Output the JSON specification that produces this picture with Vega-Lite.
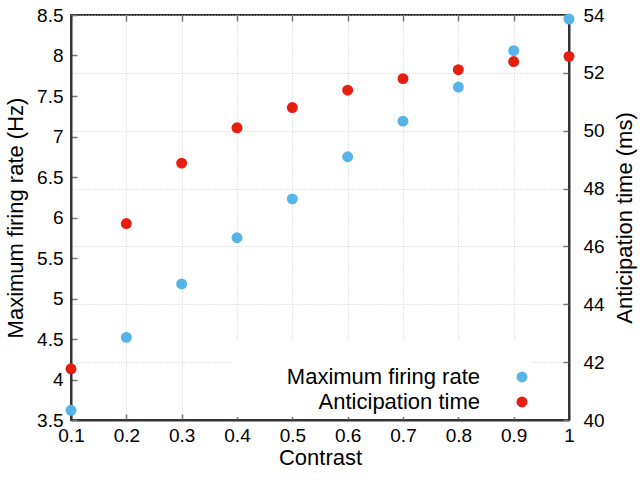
{
  "$schema": "https://vega.github.io/schema/vega-lite/v6.json",
  "width": 498,
  "height": 405,
  "autosize": "none",
  "padding": {"left": 71, "top": 15, "right": 71, "bottom": 60},
  "data": {
    "values": [
      {"contrast": 0.1, "rate": 3.62, "time": 41.77},
      {"contrast": 0.2, "rate": 4.52, "time": 46.79},
      {"contrast": 0.3, "rate": 5.18, "time": 48.88},
      {"contrast": 0.4, "rate": 5.75, "time": 50.1},
      {"contrast": 0.5, "rate": 6.23, "time": 50.8},
      {"contrast": 0.6, "rate": 6.75, "time": 51.4},
      {"contrast": 0.7, "rate": 7.19, "time": 51.8},
      {"contrast": 0.8, "rate": 7.61, "time": 52.11},
      {"contrast": 0.9, "rate": 8.06, "time": 52.39},
      {"contrast": 1.0, "rate": 8.45, "time": 52.57}
    ]
  },
  "layer": [
    {
      "mark": {"type": "point", "filled": true, "opacity": 1, "size": 120, "clip": false},
      "encoding": {
        "x": {
          "field": "contrast",
          "type": "quantitative",
          "scale": {"domain": [0.1, 1], "nice": false, "zero": false},
          "axis": {
            "title": "Contrast",
            "values": [0.1, 0.2, 0.3, 0.4, 0.5, 0.6, 0.7, 0.8, 0.9, 1],
            "format": ".1~f",
            "grid": true,
            "labelPadding": 12,
            "titlePadding": 2
          }
        },
        "y": {
          "field": "rate",
          "type": "quantitative",
          "scale": {"domain": [3.5, 8.5], "nice": false, "zero": false},
          "axis": {
            "title": "Maximum firing rate (Hz)",
            "orient": "left",
            "values": [3.5, 4, 4.5, 5, 5.5, 6, 6.5, 7, 7.5, 8, 8.5],
            "format": "~g",
            "grid": false,
            "labelPadding": 14,
            "titlePadding": 9
          }
        },
        "color": {
          "datum": "Maximum firing rate",
          "type": "nominal",
          "scale": {
            "domain": ["Maximum firing rate", "Anticipation time"],
            "range": ["#56b4e9", "#e51e10"]
          },
          "legend": {
            "title": " ",
            "titleFontSize": 16,
            "titlePadding": 6,
            "orient": "none",
            "legendX": 161,
            "legendY": 325,
            "fillColor": "white",
            "padding": 4,
            "symbolType": "circle",
            "symbolSize": 120,
            "symbolOpacity": 1,
            "symbolStrokeWidth": 0,
            "labelAlign": "right",
            "labelOffset": -53,
            "symbolOffset": 275,
            "labelLimit": 400,
            "labelFontSize": 22,
            "rowPadding": 3
          }
        }
      }
    },
    {
      "mark": {"type": "point", "filled": true, "opacity": 1, "size": 120, "clip": false},
      "encoding": {
        "x": {"field": "contrast", "type": "quantitative", "axis": null},
        "y": {
          "field": "time",
          "type": "quantitative",
          "scale": {"domain": [40, 54], "nice": false, "zero": false},
          "axis": {
            "title": "Anticipation time (ms)",
            "orient": "right",
            "values": [40, 42, 44, 46, 48, 50, 52, 54],
            "grid": true,
            "labelPadding": 20,
            "titleAngle": -90,
            "titleBaseline": "top",
            "titlePadding": 10
          }
        },
        "color": {"datum": "Anticipation time", "type": "nominal"}
      }
    },
    {
      "mark": {"type": "point", "opacity": 0},
      "encoding": {
        "x": {
          "field": "contrast",
          "type": "quantitative",
          "axis": {
            "orient": "top",
            "title": null,
            "labels": false,
            "domain": false,
            "grid": false,
            "values": [0.1, 0.2, 0.3, 0.4, 0.5, 0.6, 0.7, 0.8, 0.9, 1]
          }
        }
      }
    }
  ],
  "resolve": {"scale": {"y": "independent"}, "axis": {"x": "independent"}},
  "config": {
    "font": "Liberation Sans",
    "view": {"stroke": "#333333", "strokeWidth": 2},
    "axis": {
      "labelFont": "Liberation Sans",
      "titleFont": "Liberation Sans",
      "labelFontSize": 19,
      "titleFontSize": 22,
      "titleFontWeight": "normal",
      "labelColor": "#000000",
      "titleColor": "#000000",
      "domainColor": "#333333",
      "domainWidth": 2,
      "tickColor": "#777777",
      "tickSize": -6,
      "tickWidth": 1.5,
      "gridColor": "#cccccc",
      "gridDash": [1, 2],
      "gridWidth": 1,
      "labelFlush": false,
      "labelOverlap": false
    },
    "legend": {
      "labelFont": "Liberation Sans",
      "titleFont": "Liberation Sans",
      "labelColor": "#000000"
    }
  }
}
